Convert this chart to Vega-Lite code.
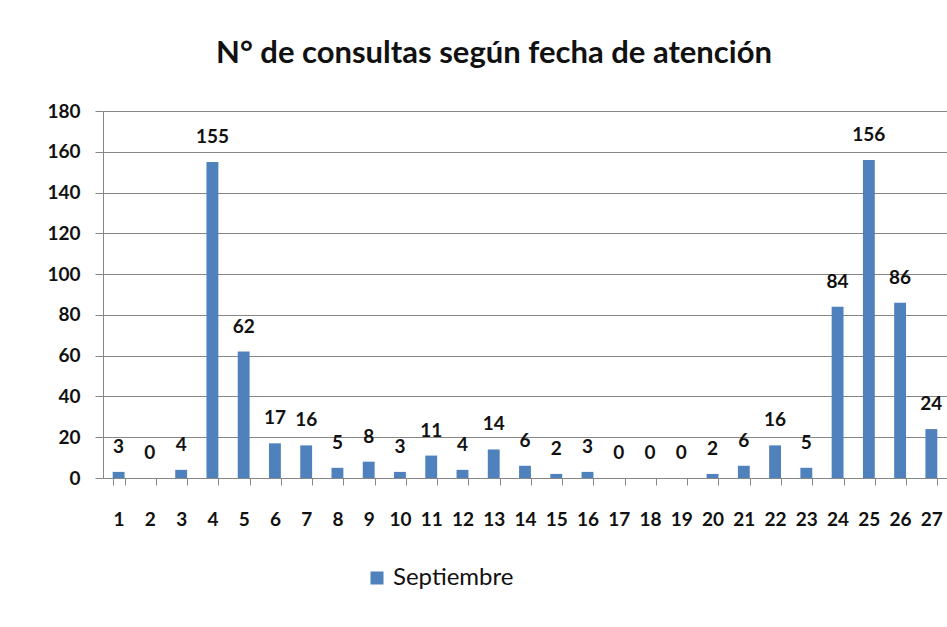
{
  "$schema": "https://vega.github.io/schema/vega-lite/v6.json",
  "autosize": "none",
  "width": 844,
  "height": 367,
  "padding": {"left": 103, "top": 111, "right": 0, "bottom": 149},
  "background": "white",
  "title": {
    "text": "N° de consultas según fecha de atención",
    "anchor": "middle",
    "frame": "group",
    "dx": -31,
    "offset": 32,
    "font": "Lato",
    "fontSize": 31,
    "fontWeight": "bold",
    "color": "#111111"
  },
  "config": {
    "view": {"stroke": null},
    "font": "Lato"
  },
  "data": {
    "values": [
      {"dia": 1, "consultas": 3, "serie": "Septiembre"},
      {"dia": 2, "consultas": 0, "serie": "Septiembre"},
      {"dia": 3, "consultas": 4, "serie": "Septiembre"},
      {"dia": 4, "consultas": 155, "serie": "Septiembre"},
      {"dia": 5, "consultas": 62, "serie": "Septiembre"},
      {"dia": 6, "consultas": 17, "serie": "Septiembre"},
      {"dia": 7, "consultas": 16, "serie": "Septiembre"},
      {"dia": 8, "consultas": 5, "serie": "Septiembre"},
      {"dia": 9, "consultas": 8, "serie": "Septiembre"},
      {"dia": 10, "consultas": 3, "serie": "Septiembre"},
      {"dia": 11, "consultas": 11, "serie": "Septiembre"},
      {"dia": 12, "consultas": 4, "serie": "Septiembre"},
      {"dia": 13, "consultas": 14, "serie": "Septiembre"},
      {"dia": 14, "consultas": 6, "serie": "Septiembre"},
      {"dia": 15, "consultas": 2, "serie": "Septiembre"},
      {"dia": 16, "consultas": 3, "serie": "Septiembre"},
      {"dia": 17, "consultas": 0, "serie": "Septiembre"},
      {"dia": 18, "consultas": 0, "serie": "Septiembre"},
      {"dia": 19, "consultas": 0, "serie": "Septiembre"},
      {"dia": 20, "consultas": 2, "serie": "Septiembre"},
      {"dia": 21, "consultas": 6, "serie": "Septiembre"},
      {"dia": 22, "consultas": 16, "serie": "Septiembre"},
      {"dia": 23, "consultas": 5, "serie": "Septiembre"},
      {"dia": 24, "consultas": 84, "serie": "Septiembre"},
      {"dia": 25, "consultas": 156, "serie": "Septiembre"},
      {"dia": 26, "consultas": 86, "serie": "Septiembre"},
      {"dia": 27, "consultas": 24, "serie": "Septiembre"}
    ]
  },
  "encoding": {
    "x": {
      "field": "dia",
      "type": "ordinal",
      "sort": "ascending",
      "scale": {"paddingInner": 0.62, "paddingOuter": 0.31},
      "axis": {
        "title": null,
        "labelAngle": 0,
        "labelFont": "Lato",
        "labelFontSize": 19,
        "labelFontWeight": "bold",
        "labelColor": "#111111",
        "labelPadding": 25,
        "ticks": true,
        "tickBand": "extent",
        "tickSize": 7,
        "tickWidth": 1,
        "tickColor": "#868686",
        "domainColor": "#868686",
        "grid": false
      }
    },
    "y": {
      "field": "consultas",
      "type": "quantitative",
      "scale": {"domain": [0, 180], "nice": false},
      "axis": {
        "title": null,
        "values": [0, 20, 40, 60, 80, 100, 120, 140, 160, 180],
        "labelFont": "Lato",
        "labelFontSize": 19,
        "labelFontWeight": "bold",
        "labelColor": "#111111",
        "labelPadding": 15,
        "tickSize": 8,
        "tickColor": "#868686",
        "domainColor": "#868686",
        "grid": true,
        "gridColor": "#868686",
        "gridOpacity": 1
      }
    }
  },
  "layer": [
    {
      "mark": {"type": "bar"},
      "encoding": {
        "color": {
          "field": "serie",
          "type": "nominal",
          "scale": {"range": ["#4F81BD"]},
          "legend": {
            "title": null,
            "orient": "none",
            "legendX": 262,
            "legendY": 455,
            "symbolType": "square",
            "symbolSize": 170,
            "symbolOpacity": 1,
            "labelFont": "Lato",
            "labelFontSize": 24,
            "labelColor": "#111111"
          }
        }
      }
    },
    {
      "mark": {
        "type": "text",
        "baseline": "alphabetic",
        "dy": -19,
        "font": "Lato",
        "fontSize": 19,
        "fontWeight": "bold",
        "color": "#111111"
      },
      "encoding": {"text": {"field": "consultas", "type": "quantitative"}}
    }
  ]
}
